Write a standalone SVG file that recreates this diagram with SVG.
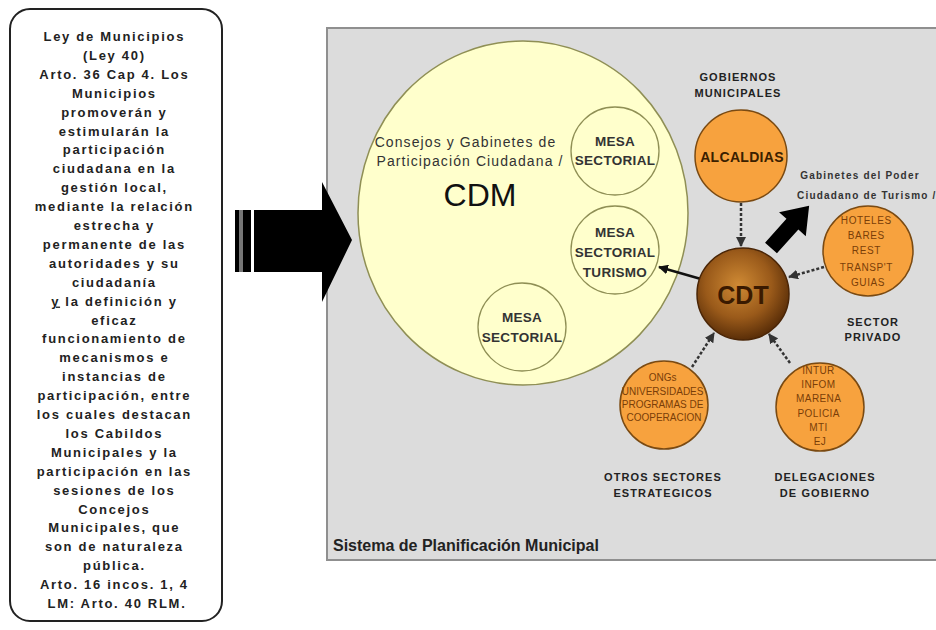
<svg xmlns="http://www.w3.org/2000/svg" width="936" height="630" viewBox="0 0 936 630">
<style>
.lt{font-family:"Liberation Sans",Arial,sans-serif;font-weight:bold;font-size:13px;letter-spacing:1.7px;fill:#222;text-anchor:middle}
.lbl{font-family:"Liberation Sans",Arial,sans-serif;font-weight:bold;font-size:11px;letter-spacing:1.1px;fill:#222;text-anchor:middle}
.mesa{font-family:"Liberation Sans",Arial,sans-serif;font-weight:bold;font-size:13.5px;letter-spacing:0.3px;fill:#333;text-anchor:middle}
.mc{fill:#ffffcc;stroke:#8f8f55;stroke-width:1.3}
.or{fill:#f7a23e;stroke:#7a4a12;stroke-width:1.5}
.ot{font-family:"Liberation Sans",Arial,sans-serif;font-size:10px;fill:#7a3e08;text-anchor:middle}
.dash{stroke:#333;stroke-width:2.5;stroke-dasharray:3 2;fill:none}
</style>
<defs>
<radialGradient id="cdtg" cx="0.45" cy="0.4" r="0.6">
<stop offset="0" stop-color="#cf8a34"/>
<stop offset="0.6" stop-color="#9a5a1a"/>
<stop offset="1" stop-color="#5a2e08"/>
</radialGradient>
<marker id="ah" viewBox="0 0 10 10" refX="9" refY="5" markerWidth="4" markerHeight="4" orient="auto">
<path d="M0,0 L10,5 L0,10 z" fill="#333"/>
</marker>
<marker id="ahb" viewBox="0 0 10 10" refX="9" refY="5" markerWidth="4" markerHeight="4" orient="auto">
<path d="M0,0 L10,5 L0,10 z" fill="#111"/>
</marker>
</defs>
<rect width="936" height="630" fill="#fff"/>

<g id="ley-box">
<rect x="10" y="9" width="212" height="612" rx="20" ry="20" fill="#fff" stroke="#222" stroke-width="2"/>
<text class="lt">
<tspan x="117" y="41">Ley de Municipios</tspan>
<tspan x="117" y="59.9">(Ley 40)</tspan>
<tspan x="117" y="78.8">Arto. 36  Cap 4. Los</tspan>
<tspan x="117" y="97.7">Municipios</tspan>
<tspan x="117" y="116.6">promoverán y</tspan>
<tspan x="117" y="135.5">estimularán la</tspan>
<tspan x="117" y="154.4">participación</tspan>
<tspan x="117" y="173.3">ciudadana en la</tspan>
<tspan x="117" y="192.2">gestión local,</tspan>
<tspan x="117" y="211.1">mediante la relación</tspan>
<tspan x="117" y="230">estrecha y</tspan>
<tspan x="117" y="248.9">permanente de las</tspan>
<tspan x="117" y="267.8">autoridades y su</tspan>
<tspan x="117" y="286.7">ciudadanía</tspan>
<tspan x="117" y="305.6"><tspan text-decoration="underline">y</tspan> la definición y</tspan>
<tspan x="117" y="324.5">eficaz</tspan>
<tspan x="117" y="343.4">funcionamiento de</tspan>
<tspan x="117" y="362.3">mecanismos e</tspan>
<tspan x="117" y="381.2">instancias de</tspan>
<tspan x="117" y="400.1">participación, entre</tspan>
<tspan x="117" y="419">los cuales destacan</tspan>
<tspan x="117" y="437.9">los Cabildos</tspan>
<tspan x="117" y="456.8">Municipales y la</tspan>
<tspan x="117" y="475.7">participación en las</tspan>
<tspan x="117" y="494.6">sesiones de los</tspan>
<tspan x="117" y="513.5">Concejos</tspan>
<tspan x="117" y="532.4">Municipales, que</tspan>
<tspan x="117" y="551.3">son de naturaleza</tspan>
<tspan x="117" y="570.2">pública.</tspan>
<tspan x="117" y="589.1">Arto. 16 incos. 1, 4</tspan>
<tspan x="117" y="608">LM: Arto. 40 RLM.</tspan>
</text>
</g>

<g id="panel">
<rect x="327" y="28" width="630" height="532" fill="#dcdcdc" stroke="#8f8f8f" stroke-width="2"/>
<text x="333" y="551" font-family="'Liberation Sans',Arial,sans-serif" font-weight="bold" font-size="16" fill="#222">Sistema de Planificación Municipal</text>
</g>

<g id="big-arrow">
<rect x="235" y="210" width="4" height="62" fill="#000"/>
<rect x="239" y="210" width="4" height="62" fill="#777"/>
<rect x="243" y="210" width="8" height="62" fill="#000"/>
<polygon points="254,210 322,210 322,182 352,240 322,302 322,272 254,272" fill="#000"/>
</g>

<g id="cdm">
<ellipse cx="523" cy="213" rx="165" ry="172" fill="#ffffcc" stroke="#8f8f55" stroke-width="1.5"/>
<text font-family="'Liberation Sans',Arial,sans-serif" font-size="14" letter-spacing="1.1" fill="#333" text-anchor="middle">
<tspan x="468" y="147">Consejos y Gabinetes de</tspan>
<tspan x="470" y="166">Participación Ciudadana /</tspan>
</text>
<text x="480" y="206" font-family="'Liberation Sans',Arial,sans-serif" font-size="32" fill="#111" text-anchor="middle">CDM</text>
</g>

<g id="mesa1">
<circle class="mc" cx="615" cy="151" r="44"/>
<text class="mesa"><tspan x="615" y="146">MESA</tspan><tspan x="615" y="165">SECTORIAL</tspan></text>
</g>
<g id="mesa-turismo">
<circle class="mc" cx="615" cy="250" r="44"/>
<text class="mesa"><tspan x="615" y="237">MESA</tspan><tspan x="615" y="257">SECTORIAL</tspan><tspan x="615" y="277">TURISMO</tspan></text>
</g>
<g id="mesa3">
<circle class="mc" cx="522" cy="327" r="44"/>
<text class="mesa"><tspan x="522" y="322">MESA</tspan><tspan x="522" y="342">SECTORIAL</tspan></text>
</g>

<g id="alcaldias">
<text class="lbl"><tspan x="738" y="81">GOBIERNOS</tspan><tspan x="738" y="97">MUNICIPALES</tspan></text>
<circle class="or" cx="741" cy="156" r="46"/>
<text x="742" y="162" font-family="'Liberation Sans',Arial,sans-serif" font-weight="bold" font-size="14" letter-spacing="0.3" fill="#3a2000" text-anchor="middle">ALCALDIAS</text>
</g>

<g id="hoteles">
<circle class="or" cx="868" cy="251" r="45"/>
<text class="ot" font-size="11" letter-spacing="0.6">
<tspan x="868" y="224">HOTELES</tspan>
<tspan x="868" y="239">BARES</tspan>
<tspan x="868" y="254">REST</tspan>
<tspan x="868" y="271">TRANSP'T</tspan>
<tspan x="868" y="286">GUIAS</tspan>
</text>
<text class="lbl"><tspan x="873" y="326">SECTOR</tspan><tspan x="873" y="341">PRIVADO</tspan></text>
</g>

<g id="gabinetes">
<text font-family="'Liberation Sans',Arial,sans-serif" font-weight="bold" font-size="10" letter-spacing="1.2" fill="#333">
<tspan x="862" y="179" text-anchor="middle">Gabinetes del Poder</tspan>
<tspan x="797" y="199">Ciudadano de Turismo /</tspan>
</text>
</g>

<g id="otros">
<circle class="or" cx="664" cy="405" r="44"/>
<text class="ot" font-size="9.5">
<tspan x="664" y="381">ONGs</tspan>
<tspan x="664" y="395">UNIVERSIDADES</tspan>
<tspan x="664" y="408">PROGRAMAS DE</tspan>
<tspan x="664" y="421">COOPERACION</tspan>
</text>
<text class="lbl"><tspan x="663" y="481">OTROS SECTORES</tspan><tspan x="663" y="497">ESTRATEGICOS</tspan></text>
</g>

<g id="delegaciones">
<circle class="or" cx="820" cy="407" r="44"/>
<text class="ot" letter-spacing="0.4">
<tspan x="820" y="374">INTUR</tspan>
<tspan x="820" y="388">INFOM</tspan>
<tspan x="820" y="402">MARENA</tspan>
<tspan x="820" y="417">POLICIA</tspan>
<tspan x="820" y="431">MTI</tspan>
<tspan x="820" y="445">EJ</tspan>
</text>
<text class="lbl"><tspan x="825" y="481">DELEGACIONES</tspan><tspan x="825" y="497">DE GOBIERNO</tspan></text>
</g>

<g id="connectors">
<line class="dash" x1="741" y1="203" x2="741" y2="246" stroke-width="3" marker-end="url(#ah)"/>
<line class="dash" x1="824" y1="267" x2="789" y2="277" marker-end="url(#ah)"/>
<line class="dash" x1="692" y1="367" x2="714" y2="333" marker-end="url(#ah)"/>
<line class="dash" x1="790" y1="363" x2="769" y2="334" marker-end="url(#ah)"/>
<line x1="701" y1="279" x2="659" y2="267" stroke="#111" stroke-width="2.5" marker-end="url(#ahb)"/>
<polygon points="0,-8 32,-8 32,-18 57,0 32,18 32,8 0,8" fill="#000" transform="translate(771,248) rotate(-48)"/>
</g>

<g id="cdt">
<circle cx="743" cy="294" r="46" fill="url(#cdtg)" stroke="#4a2506" stroke-width="1.5"/>
<text x="743" y="304" font-family="'Liberation Sans',Arial,sans-serif" font-weight="bold" font-size="25" fill="#3a1a00" text-anchor="middle">CDT</text>
</g>
</svg>
